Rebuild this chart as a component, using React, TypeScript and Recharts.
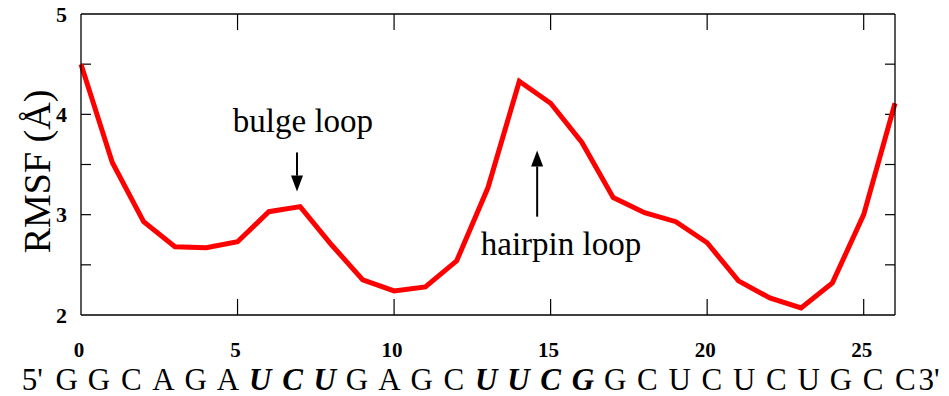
import React from "react"
import { LineChart, Line, XAxis, YAxis, ReferenceLine, ReferenceDot } from "recharts"

// residue index along the RNA hairpin
const positions = [0, 1, 2, 3, 4, 5, 6, 7, 8, 9, 10, 11, 12, 13, 14, 15, 16, 17, 18, 19, 20, 21, 22, 23, 24, 25, 26]
// per-residue RMSF in angstrom
const rmsf = [
  4.5, 3.52, 2.93, 2.68, 2.67, 2.73, 3.03, 3.08, 2.7, 2.35, 2.24, 2.28, 2.54, 3.27, 4.33, 4.11, 3.72, 3.17, 3.02,
  2.93, 2.72, 2.34, 2.17, 2.07, 2.32, 3.0, 4.11,
]
const sequence = ["G", "G", "C", "A", "G", "A", "U", "C", "U", "G", "A", "G", "C", "U", "U", "C", "G", "G", "C", "U", "C", "U", "C", "U", "G", "C", "C"]
// bulge (6-8) and UUCG tetraloop (13-16) residues are set in bold italic
const loopResidues = [6, 7, 8, 13, 14, 15, 16]

const xTicks = [5, 10, 15, 20, 25]
const yMajor = [2, 3, 4, 5]
const yMinor = [2.5, 3, 3.5, 4, 4.5]

const FONT = "'Liberation Serif', 'Times New Roman', serif"

const data = positions.map((p, i) => ({ pos: p, rmsf: rmsf[i] }))

// inner tick lengths, in data units
const X_TICK_LEN = 0.16
const Y_TICK_LEN = 0.32

const SeqTick = (props: any) => {
  const { x, y, payload } = props
  const i = payload.value as number
  // the sequence line is spaced a little wider than the axis
  const lx = x + (i - 15) * 0.95
  const loop = loopResidues.includes(i)
  return (
    <g>
      {i % 5 === 0 && (
        <text x={x - 2} y={y + 42} textAnchor="middle" fontFamily={FONT} fontSize={21} fontWeight="bold" fill="#000">
          {i}
        </text>
      )}
      <text
        x={lx}
        y={y + 75}
        textAnchor="middle"
        fontFamily={FONT}
        fontSize={31}
        fontWeight={loop ? "bold" : "normal"}
        fontStyle={loop ? "italic" : "normal"}
        fill="#000"
      >
        {sequence[i]}
      </text>
      {i === 0 && (
        <text x={lx - 24} y={y + 75} textAnchor="end" fontFamily={FONT} fontSize={31} fill="#000">
          5'
        </text>
      )}
      {i === 26 && (
        <text x={lx + 13} y={y + 75} textAnchor="start" fontFamily={FONT} fontSize={31} fill="#000">
          3'
        </text>
      )}
    </g>
  )
}

const arrowShape = (up: boolean) => (p: any) => {
  const { x1, y1, x2, y2 } = p
  const tipY = up ? Math.min(y1, y2) : Math.max(y1, y2)
  const baseY = up ? Math.max(y1, y2) : Math.min(y1, y2)
  const head = up ? tipY + 16 : tipY - 16
  return (
    <g>
      <line x1={x1} y1={baseY} x2={x2} y2={head} stroke="#000" strokeWidth={2} />
      <polygon points={`${x1},${tipY} ${x1 - 6},${head} ${x1 + 6},${head}`} fill="#000" />
    </g>
  )
}

const labelShape = (text: string) => (p: any) => (
  <text x={p.cx} y={p.cy} textAnchor="middle" fontFamily={FONT} fontSize={33} fill="#000">
    {text}
  </text>
)

const YLabel = (props: any) => {
  const { viewBox } = props
  const cx = viewBox.x + 50
  const cy = viewBox.y + viewBox.height / 2 + 7
  return (
    <text x={cx} y={cy} transform={`rotate(-90 ${cx} ${cy})`} textAnchor="middle" fontFamily={FONT} fontSize={38} fill="#000">
      RMSF (Å)
    </text>
  )
}

export default function App() {
  return (
    <div style={{ position: "absolute", left: 0, top: 0, width: 949, height: 396, background: "#fff" }}>
      <LineChart width={949} height={396} data={data} margin={{ top: 0, right: 0, bottom: 0, left: 0 }}>
        <XAxis
          dataKey="pos"
          type="number"
          domain={[0, 26]}
          ticks={positions}
          interval={0}
          height={81}
          tickSize={0}
          tickMargin={0}
          tickLine={false}
          axisLine={{ stroke: "#000", strokeWidth: 1.3 }}
          tick={<SeqTick />}
        />
        <XAxis
          xAxisId="top"
          orientation="top"
          type="number"
          domain={[0, 26]}
          height={14}
          tick={false}
          tickLine={false}
          axisLine={{ stroke: "#000", strokeWidth: 1.3 }}
        />
        <YAxis
          domain={[2, 5]}
          ticks={yMajor}
          width={81}
          tickSize={0}
          tickMargin={14}
          tickLine={false}
          axisLine={{ stroke: "#000", strokeWidth: 1.3 }}
          tick={{ fontFamily: FONT, fontSize: 22, fontWeight: "bold", fill: "#000" }}
          label={<YLabel />}
        />
        <YAxis
          yAxisId="right"
          orientation="right"
          domain={[2, 5]}
          width={54}
          tick={false}
          tickLine={false}
          axisLine={{ stroke: "#000", strokeWidth: 1.3 }}
        />

        {xTicks.map((t) => (
          <ReferenceLine key={`xb${t}`} segment={[{ x: t, y: 2 }, { x: t, y: 2 + X_TICK_LEN }]} stroke="#000" strokeWidth={1.2} />
        ))}
        {xTicks.map((t) => (
          <ReferenceLine key={`xt${t}`} segment={[{ x: t, y: 5 - X_TICK_LEN }, { x: t, y: 5 }]} stroke="#000" strokeWidth={1.2} />
        ))}
        {yMinor.map((t) => (
          <ReferenceLine key={`yl${t}`} segment={[{ x: 0, y: t }, { x: Y_TICK_LEN, y: t }]} stroke="#000" strokeWidth={1.2} />
        ))}
        {yMinor.map((t) => (
          <ReferenceLine key={`yr${t}`} segment={[{ x: 26 - Y_TICK_LEN, y: t }, { x: 26, y: t }]} stroke="#000" strokeWidth={1.2} />
        ))}

        <Line
          type="linear"
          dataKey="rmsf"
          stroke="#ff0000"
          strokeWidth={5}
          strokeLinejoin="miter"
          dot={false}
          activeDot={false}
          isAnimationActive={false}
        />

        <ReferenceLine segment={[{ x: 6.9, y: 3.62 }, { x: 6.9, y: 3.23 }]} shape={arrowShape(false)} />
        <ReferenceLine segment={[{ x: 14.57, y: 2.98 }, { x: 14.57, y: 3.64 }]} shape={arrowShape(true)} />
        <ReferenceDot x={7.09} y={3.82} r={0} shape={labelShape("bulge loop")} />
        <ReferenceDot x={15.33} y={2.6} r={0} shape={labelShape("hairpin loop")} />
      </LineChart>
    </div>
  )
}
